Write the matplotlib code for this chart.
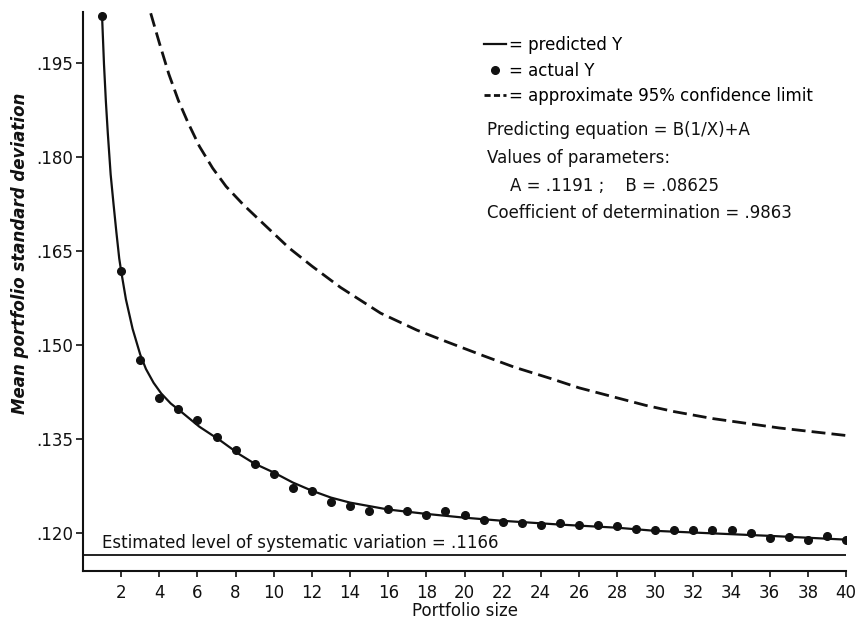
import matplotlib.pyplot as plt
from matplotlib.lines import Line2D

# actual Y (mean portfolio std dev) for portfolio sizes 1..40
sizes = list(range(1, 41))
actual_y = [0.2024, 0.1618, 0.1477, 0.1415, 0.1399, 0.1381, 0.1353, 0.1333, 0.1310, 0.1295,
            0.1273, 0.1267, 0.1250, 0.1243, 0.1236, 0.1239, 0.1236, 0.1230, 0.1236, 0.1229,
            0.1221, 0.1218, 0.1217, 0.1214, 0.1216, 0.1214, 0.1214, 0.1211, 0.1207, 0.1205,
            0.1205, 0.1205, 0.1205, 0.1205, 0.1200, 0.1193, 0.1194, 0.1190, 0.1195, 0.1190]

# predicted Y curve
pred_x = [1.0, 1.1, 1.2, 1.3, 1.45, 1.6, 1.75, 1.9, 2.0, 2.25, 2.6, 3.0, 3.3, 3.7, 4.1, 4.6,
          5.1, 6.1, 7.2, 8.2, 9.0, 10, 11, 12, 13, 14, 16, 18, 20, 22, 25, 28, 30, 33, 36, 40]
pred_y = [0.2024, 0.1948, 0.1888, 0.1838, 0.1772, 0.1725, 0.1680, 0.1638, 0.1618, 0.1573,
          0.1526, 0.1485, 0.1462, 0.1440, 0.1423, 0.1407, 0.1395, 0.1370, 0.1348, 0.1326,
          0.1311, 0.1297, 0.1281, 0.1268, 0.1257, 0.1249, 0.1238, 0.1231, 0.1225, 0.1220,
          0.1214, 0.1209, 0.1204, 0.1200, 0.1196, 0.1190]

# approximate 95% confidence limit
conf_x = [3.55, 4.0, 4.5, 5.0, 5.5, 6.1, 6.8, 7.5, 8.4, 9.3, 10.8, 12.0, 13.5, 15.6, 17.5,
          19.1, 21, 22.6, 24.5, 26, 28, 29.5, 31, 33, 36.5, 40]
conf_y = [0.2029, 0.1982, 0.1932, 0.1890, 0.1855, 0.1817, 0.1782, 0.1753, 0.1724, 0.1698,
          0.1655, 0.1626, 0.1592, 0.1551, 0.1524, 0.1505, 0.1483, 0.1465, 0.1447, 0.1432,
          0.1416, 0.1404, 0.1394, 0.1383, 0.1368, 0.1356]

sys_level = 0.1166

y_ticks = [0.120, 0.135, 0.150, 0.165, 0.180, 0.195]
y_labels = ['.120', '.135', '.150', '.165', '.180', '.195']
x_ticks = list(range(2, 41, 2))

W, H = 859, 626
fig = plt.figure(figsize=(W / 100, H / 100), dpi=100)
ax = fig.add_axes([83 / W, 55 / H, 763 / W, 559 / H])

ink = '#111111'
ax.plot(pred_x, pred_y, '-', color=ink, lw=1.6)
ax.plot(sizes, actual_y, 'o', color=ink, ms=5.5)
ax.plot(conf_x, conf_y, color=ink, lw=2.0, linestyle=(0, (5, 2.2)))
ax.axhline(sys_level, color=ink, lw=1.3)
ax.annotate('Estimated level of systematic variation = .1166', xy=(1.0, sys_level),
            xytext=(0, 2), textcoords='offset points', ha='left', va='bottom',
            fontsize=12, color=ink)

ax.set_xlim(0, 40)
ax.set_ylim(0.1140, 0.2031)
ax.set_xticks(x_ticks)
ax.set_xticklabels([str(t) for t in x_ticks])
ax.set_yticks(y_ticks)
ax.set_yticklabels(y_labels)
ax.tick_params(axis='both', labelsize=12, colors=ink, width=1.2)
ax.tick_params(axis='y', length=5, pad=2)
ax.tick_params(axis='x', length=4, pad=5)

for s in ['top', 'right']:
    ax.spines[s].set_visible(False)
for s in ['left', 'bottom']:
    ax.spines[s].set_linewidth(1.5)
    ax.spines[s].set_color(ink)

ax.set_xlabel('Portfolio size', fontsize=12, color=ink)
ax.xaxis.set_label_coords(0.5, -0.055)
ax.text(-0.083, 0.569, 'Mean portfolio standard deviation', transform=ax.transAxes,
        rotation=90, ha='center', va='center', fontsize=12, fontweight='bold',
        fontstyle='italic', color=ink)

# key and fit info
handles = [Line2D([], [], color=ink, lw=1.6),
           Line2D([], [], color=ink, marker='o', ls='none', ms=5.5),
           Line2D([], [], color=ink, lw=2.0, linestyle=(0, (2.2, 1.2)))]
labels = ['= predicted Y', '= actual Y', '= approximate 95% confidence limit']
fig.legend(handles, labels, loc='upper left', bbox_to_anchor=(484 / W, 1 - 36 / H),
           frameon=False, fontsize=12, handlelength=1.3, handletextpad=0.2,
           borderpad=0, borderaxespad=0, labelspacing=0.45)

info = [('Predicting equation = B(1/X)+A', 487, 130),
        ('Values of parameters:', 487, 158),
        ('A = .1191 ;    B = .08625', 510, 186),
        ('Coefficient of determination = .9863', 487, 213)]
for txt, px, py in info:
    fig.text(px / W, 1 - py / H, txt, ha='left', va='center', fontsize=12, color=ink)

fig.savefig('out.png', dpi=100)
